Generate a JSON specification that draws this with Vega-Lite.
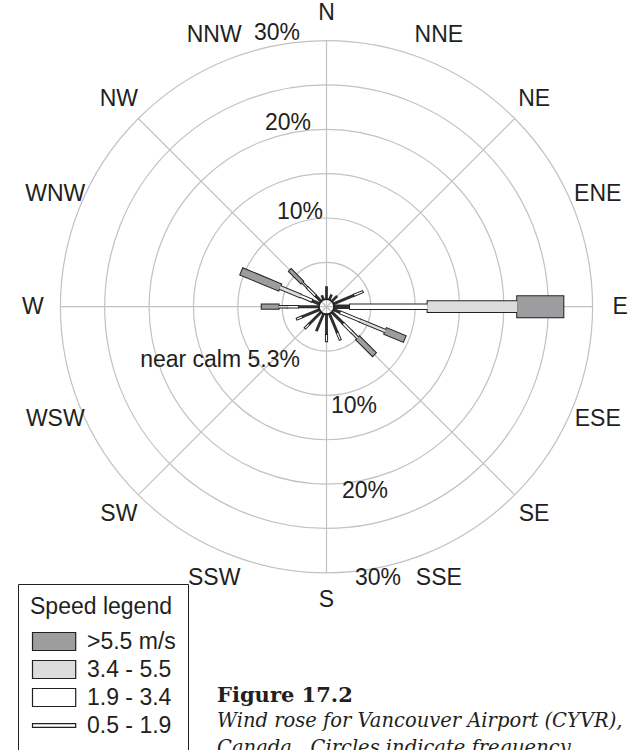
{
  "$schema": "https://vega.github.io/schema/vega-lite/v6.json",
  "width": 631,
  "height": 750,
  "autosize": "none",
  "padding": 0,
  "background": "white",
  "config": {"view": {"stroke": null}, "font": "Liberation Sans"},
  "datasets": {
    "bars": [
      {"dir": 0, "cls": "0.5-1.9", "r0": 0.85, "r1": 2.3},
      {"dir": 22.5, "cls": "0.5-1.9", "r0": 0.85, "r1": 1.5},
      {"dir": 45, "cls": "0.5-1.9", "r0": 0.85, "r1": 1.7},
      {"dir": 67.5, "cls": "0.5-1.9", "r0": 0.85, "r1": 3.4},
      {"dir": 67.5, "cls": "1.9-3.4", "r0": 3.4, "r1": 4.4},
      {"dir": 90, "cls": "0.5-1.9", "r0": 0.85, "r1": 2.65},
      {"dir": 90, "cls": "1.9-3.4", "r0": 2.65, "r1": 11.4},
      {"dir": 90, "cls": "3.4-5.5", "r0": 11.4, "r1": 21.5},
      {"dir": 90, "cls": ">5.5", "r0": 21.5, "r1": 26.7},
      {"dir": 112.5, "cls": "0.5-1.9", "r0": 0.85, "r1": 1.7},
      {"dir": 112.5, "cls": "1.9-3.4", "r0": 1.7, "r1": 4.1},
      {"dir": 112.5, "cls": "3.4-5.5", "r0": 4.1, "r1": 7.2},
      {"dir": 112.5, "cls": ">5.5", "r0": 7.2, "r1": 9.5},
      {"dir": 135, "cls": "0.5-1.9", "r0": 0.85, "r1": 2.7},
      {"dir": 135, "cls": "1.9-3.4", "r0": 2.7, "r1": 4.0},
      {"dir": 135, "cls": "3.4-5.5", "r0": 4.0, "r1": 5.0},
      {"dir": 135, "cls": ">5.5", "r0": 5.0, "r1": 7.6},
      {"dir": 157.5, "cls": "0.5-1.9", "r0": 0.85, "r1": 3.2},
      {"dir": 157.5, "cls": "1.9-3.4", "r0": 3.2, "r1": 4.0},
      {"dir": 180, "cls": "0.5-1.9", "r0": 0.85, "r1": 3.2},
      {"dir": 180, "cls": "1.9-3.4", "r0": 3.2, "r1": 3.9},
      {"dir": 202.5, "cls": "0.5-1.9", "r0": 0.85, "r1": 3.0},
      {"dir": 225, "cls": "0.5-1.9", "r0": 0.85, "r1": 2.8},
      {"dir": 225, "cls": "1.9-3.4", "r0": 2.8, "r1": 3.4},
      {"dir": 247.5, "cls": "0.5-1.9", "r0": 0.85, "r1": 3.0},
      {"dir": 247.5, "cls": "1.9-3.4", "r0": 3.0, "r1": 3.6},
      {"dir": 270, "cls": "0.5-1.9", "r0": 0.85, "r1": 3.2},
      {"dir": 270, "cls": "1.9-3.4", "r0": 3.2, "r1": 4.4},
      {"dir": 270, "cls": "3.4-5.5", "r0": 4.4, "r1": 5.4},
      {"dir": 270, "cls": ">5.5", "r0": 5.4, "r1": 7.3},
      {"dir": 292.5, "cls": "0.5-1.9", "r0": 0.85, "r1": 1.8},
      {"dir": 292.5, "cls": "1.9-3.4", "r0": 1.8, "r1": 3.2},
      {"dir": 292.5, "cls": "3.4-5.5", "r0": 3.2, "r1": 5.7},
      {"dir": 292.5, "cls": ">5.5", "r0": 5.7, "r1": 10.35},
      {"dir": 315, "cls": "0.5-1.9", "r0": 0.85, "r1": 1.8},
      {"dir": 315, "cls": "1.9-3.4", "r0": 1.8, "r1": 3.0},
      {"dir": 315, "cls": "3.4-5.5", "r0": 3.0, "r1": 3.9},
      {"dir": 315, "cls": ">5.5", "r0": 3.9, "r1": 5.8},
      {"dir": 337.5, "cls": "0.5-1.9", "r0": 0.85, "r1": 1.4}
    ],
    "grid": [{"r": 5}, {"r": 10}, {"r": 15}, {"r": 20}, {"r": 25}, {"r": 30}],
    "spokes": [{"dir": 0}, {"dir": 45}, {"dir": 90}, {"dir": 135}, {"dir": 180}, {"dir": 225}, {"dir": 270}, {"dir": 315}],
    "dirs": [
      {"label": "N", "dir": 0}, {"label": "NNE", "dir": 22.5}, {"label": "NE", "dir": 45}, {"label": "ENE", "dir": 67.5},
      {"label": "E", "dir": 90}, {"label": "ESE", "dir": 112.5}, {"label": "SE", "dir": 135}, {"label": "SSE", "dir": 157.5},
      {"label": "S", "dir": 180}, {"label": "SSW", "dir": 202.5}, {"label": "SW", "dir": 225}, {"label": "WSW", "dir": 247.5},
      {"label": "W", "dir": 270}, {"label": "WNW", "dir": 292.5}, {"label": "NW", "dir": 315}, {"label": "NNW", "dir": 337.5}
    ],
    "pct": [
      {"t": "10%", "x": -2.99, "y": 10.68},
      {"t": "20%", "x": -4.34, "y": 20.7},
      {"t": "30%", "x": -5.58, "y": 30.82},
      {"t": "10%", "x": 3.1, "y": -11.2},
      {"t": "20%", "x": 4.34, "y": -20.8},
      {"t": "30%", "x": 5.81, "y": -30.6},
      {"t": "near calm 5.3%", "x": -12.0, "y": -6.0}
    ],
    "captionTitle": [{"t": "Figure 17.2", "x": -12.34, "y": -44.57}],
    "captionLines": [
      {"t": "Wind rose for Vancouver Airport (CYVR),", "x": -12.34, "y": -47.4},
      {"t": "Canada.\u00a0 Circles indicate frequency.", "x": -12.34, "y": -50.4}
    ],
    "speeds": [{"speed": ">5.5 m/s"}, {"speed": "3.4 - 5.5"}, {"speed": "1.9 - 3.4"}, {"speed": "0.5 - 1.9"}],
    "calm": [{"calm": 5.3}]
  },
  "layer": [
    {
      "data": {"name": "grid"},
      "mark": {"type": "arc", "filled": false, "stroke": "#c2c2c2", "strokeWidth": 1.2},
      "encoding": {
        "x": {"datum": 0, "type": "quantitative", "scale": {"type": "linear", "domain": [-36.81, 34.33], "nice": false, "zero": false}, "axis": null},
        "y": {"datum": 0, "type": "quantitative", "scale": {"type": "linear", "domain": [-49.98, 34.58], "nice": false, "zero": false}, "axis": null},
        "theta": {"datum": 0, "type": "quantitative", "scale": {"type": "linear", "domain": [0, 360], "range": [0, 6.283185307179586], "nice": false, "zero": false}},
        "theta2": {"datum": 360},
        "radius": {"field": "r", "type": "quantitative", "stack": null, "scale": {"type": "linear", "domain": [0, 30], "range": [0, 266.1], "nice": false, "zero": true}}
      }
    },
    {
      "data": {"name": "spokes"},
      "mark": {"type": "arc", "filled": false, "stroke": "#c2c2c2", "strokeWidth": 1.2, "strokeJoin": "bevel"},
      "encoding": {
        "x": {"datum": 0, "type": "quantitative", "scale": {"type": "linear", "domain": [-36.81, 34.33], "nice": false, "zero": false}, "axis": null},
        "y": {"datum": 0, "type": "quantitative", "scale": {"type": "linear", "domain": [-49.98, 34.58], "nice": false, "zero": false}, "axis": null},
        "theta": {"field": "dir", "type": "quantitative", "stack": null, "scale": {"type": "linear", "domain": [0, 360], "range": [0, 6.283185307179586], "nice": false, "zero": false}},
        "theta2": {"field": "dir"},
        "radius": {"datum": 30, "type": "quantitative", "stack": null, "scale": {"type": "linear", "domain": [0, 30], "range": [0, 266.1], "nice": false, "zero": true}},
        "radius2": {"datum": 0}
      }
    },
    {
      "data": {"name": "pct"},
      "mark": {"type": "text", "font": "Liberation Sans", "fontSize": 23, "color": "#231f20", "align": "center", "baseline": "middle"},
      "encoding": {
        "x": {"field": "x", "type": "quantitative", "scale": {"type": "linear", "domain": [-36.81, 34.33], "nice": false, "zero": false}, "axis": null},
        "y": {"field": "y", "type": "quantitative", "scale": {"type": "linear", "domain": [-49.98, 34.58], "nice": false, "zero": false}, "axis": null},
        "text": {"field": "t"}
      }
    },
    {
      "data": {"name": "dirs"},
      "mark": {"type": "text", "font": "Liberation Sans", "fontSize": 23, "color": "#231f20", "align": "center", "baseline": "middle"},
      "encoding": {
        "x": {"datum": 0, "type": "quantitative", "scale": {"type": "linear", "domain": [-36.81, 34.33], "nice": false, "zero": false}, "axis": null},
        "y": {"datum": 0, "type": "quantitative", "scale": {"type": "linear", "domain": [-49.98, 34.58], "nice": false, "zero": false}, "axis": null},
        "theta": {"field": "dir", "type": "quantitative", "stack": null, "scale": {"type": "linear", "domain": [0, 360], "range": [0, 6.283185307179586], "nice": false, "zero": false}},
        "radius": {"datum": 33.1, "type": "quantitative", "stack": null, "scale": {"type": "linear", "domain": [0, 30], "range": [0, 266.1], "nice": false, "zero": true}},
        "text": {"field": "label"}
      }
    },
    {
      "data": {"name": "captionTitle"},
      "mark": {"type": "text", "font": "DejaVu Serif", "fontWeight": "bold", "fontSize": 21, "color": "#231f20", "align": "left", "baseline": "alphabetic"},
      "encoding": {
        "x": {"field": "x", "type": "quantitative", "scale": {"type": "linear", "domain": [-36.81, 34.33], "nice": false, "zero": false}, "axis": null},
        "y": {"field": "y", "type": "quantitative", "scale": {"type": "linear", "domain": [-49.98, 34.58], "nice": false, "zero": false}, "axis": null},
        "text": {"field": "t"}
      }
    },
    {
      "data": {"name": "captionLines"},
      "mark": {"type": "text", "font": "DejaVu Serif", "fontStyle": "italic", "fontSize": 19.5, "color": "#231f20", "align": "left", "baseline": "alphabetic"},
      "encoding": {
        "x": {"field": "x", "type": "quantitative", "scale": {"type": "linear", "domain": [-36.81, 34.33], "nice": false, "zero": false}, "axis": null},
        "y": {"field": "y", "type": "quantitative", "scale": {"type": "linear", "domain": [-49.98, 34.58], "nice": false, "zero": false}, "axis": null},
        "text": {"field": "t"}
      }
    },
    {
      "data": {"name": "bars"},
      "transform": [{"joinaggregate": [{"op": "max", "field": "r1", "as": "total"}], "groupby": ["dir"]}],
      "encoding": {
        "x": {"datum": 0, "type": "quantitative", "scale": {"type": "linear", "domain": [-36.81, 34.33], "nice": false, "zero": false}, "axis": null},
        "y": {"datum": 0, "type": "quantitative", "scale": {"type": "linear", "domain": [-49.98, 34.58], "nice": false, "zero": false}, "axis": null},
        "theta": {"field": "dir", "type": "quantitative", "stack": null, "scale": {"type": "linear", "domain": [0, 360], "range": [0, 6.283185307179586], "nice": false, "zero": false}},
        "theta2": {"field": "dir"},
        "radius": {"field": "r1", "type": "quantitative", "stack": null, "scale": {"type": "linear", "domain": [0, 30], "range": [0, 266.1], "nice": false, "zero": true}},
        "radius2": {"field": "r0"}
      },
      "layer": [
        {
          "transform": [{"filter": "datum.cls == '0.5-1.9'"}],
          "mark": {"type": "arc", "filled": false, "stroke": "#2e2e2e", "strokeCap": "butt", "strokeJoin": "bevel"},
          "encoding": {"strokeWidth": {"field": "total", "type": "quantitative", "scale": {"domain": [0, 27], "range": [2.6, 4.6], "zero": false, "nice": false}, "legend": null}}
        },
        {
          "transform": [{"filter": "datum.cls == '1.9-3.4'"}],
          "mark": {"type": "arc", "filled": false, "stroke": "#222222", "strokeCap": "butt", "strokeJoin": "bevel", "radiusOffset": 1, "radius2Offset": -1},
          "encoding": {"strokeWidth": {"field": "total", "type": "quantitative", "scale": {"domain": [0, 27], "range": [2.5, 6.7], "zero": false, "nice": false}, "legend": null}}
        },
        {
          "transform": [{"filter": "datum.cls == '3.4-5.5'"}],
          "mark": {"type": "arc", "filled": false, "stroke": "#222222", "strokeCap": "butt", "strokeJoin": "bevel", "radiusOffset": 1, "radius2Offset": -1},
          "encoding": {"strokeWidth": {"field": "total", "type": "quantitative", "scale": {"domain": [0, 27], "range": [0, 12.85], "zero": false, "nice": false}, "legend": null}}
        },
        {
          "transform": [{"filter": "datum.cls == '>5.5'"}],
          "mark": {"type": "arc", "filled": false, "stroke": "#222222", "strokeCap": "butt", "strokeJoin": "bevel", "radiusOffset": 1, "radius2Offset": -1},
          "encoding": {"strokeWidth": {"field": "total", "type": "quantitative", "scale": {"domain": [0, 27], "range": [0, 23.2], "zero": false, "nice": false}, "legend": null}}
        },
        {
          "transform": [{"filter": "datum.cls == '1.9-3.4'"}],
          "mark": {"type": "arc", "filled": false, "stroke": "#ffffff", "strokeCap": "butt", "strokeJoin": "bevel"},
          "encoding": {"strokeWidth": {"field": "total", "type": "quantitative", "scale": {"domain": [0, 27], "range": [0.5, 4.7], "zero": false, "nice": false}, "legend": null}}
        },
        {
          "transform": [{"filter": "datum.cls == '3.4-5.5'"}],
          "mark": {"type": "arc", "filled": false, "stroke": "#dcdcdd", "strokeCap": "butt", "strokeJoin": "bevel"},
          "encoding": {"strokeWidth": {"field": "total", "type": "quantitative", "scale": {"domain": [4.2, 27], "range": [0, 10.85], "zero": false, "nice": false}, "legend": null}}
        },
        {
          "transform": [{"filter": "datum.cls == '>5.5'"}],
          "mark": {"type": "arc", "filled": false, "stroke": "#9d9d9f", "strokeCap": "butt", "strokeJoin": "bevel"},
          "encoding": {"strokeWidth": {"field": "total", "type": "quantitative", "scale": {"domain": [2.33, 27], "range": [0, 21.2], "zero": false, "nice": false}, "legend": null}}
        }
      ],
      "resolve": {"scale": {"strokeWidth": "independent"}}
    },
    {
      "data": {"name": "calm"},
      "mark": {"type": "arc", "filled": false, "stroke": "#231f20", "strokeWidth": 1.8},
      "encoding": {
        "x": {"datum": 0, "type": "quantitative", "scale": {"type": "linear", "domain": [-36.81, 34.33], "nice": false, "zero": false}, "axis": null},
        "y": {"datum": 0, "type": "quantitative", "scale": {"type": "linear", "domain": [-49.98, 34.58], "nice": false, "zero": false}, "axis": null},
        "theta": {"datum": 0, "type": "quantitative", "scale": {"type": "linear", "domain": [0, 360], "range": [0, 6.283185307179586], "nice": false, "zero": false}},
        "theta2": {"datum": 360},
        "radius": {"datum": 0.85, "type": "quantitative", "stack": null, "scale": {"type": "linear", "domain": [0, 30], "range": [0, 266.1], "nice": false, "zero": true}}
      }
    },
    {
      "data": {"name": "speeds"},
      "transform": [{"filter": "false"}],
      "mark": {"type": "point", "filled": true, "opacity": 1, "stroke": "#231f20", "strokeWidth": 1.2},
      "encoding": {
        "x": {"datum": 0, "type": "quantitative", "scale": {"type": "linear", "domain": [-36.81, 34.33], "nice": false, "zero": false}, "axis": null},
        "y": {"datum": 0, "type": "quantitative", "scale": {"type": "linear", "domain": [-49.98, 34.58], "nice": false, "zero": false}, "axis": null},
        "fill": {
          "field": "speed", "type": "nominal",
          "scale": {"domain": [">5.5 m/s", "3.4 - 5.5", "1.9 - 3.4", "0.5 - 1.9"], "range": ["#9d9d9f", "#dcdcdd", "#ffffff", "#ffffff"]},
          "legend": {
            "title": "Speed legend", "orient": "none", "legendX": 18, "legendY": 584,
            "titleFont": "Liberation Sans", "titleFontSize": 23, "titleFontWeight": "normal", "titleColor": "#231f20", "titlePadding": 11,
            "labelFont": "Liberation Sans", "labelFontSize": 23, "labelColor": "#231f20", "labelOffset": 34, "labelBaseline": "middle",
            "symbolSize": 324, "symbolStrokeColor": "#231f20", "symbolStrokeWidth": 1.2, "symbolOpacity": 1,
            "rowPadding": 4, "strokeColor": "#231f20", "fillColor": "#ffffff", "padding": 12, "cornerRadius": 0,
            "encode": {"symbols": {"update": {"stroke": {"value": "#231f20"}, "strokeWidth": {"value": 1.2}, "opacity": {"value": 1}}}}
          }
        },
        "shape": {
          "field": "speed", "type": "nominal",
          "scale": {"domain": [">5.5 m/s", "3.4 - 5.5", "1.9 - 3.4", "0.5 - 1.9"], "range": ["M-1,-1H3.8V1H-1Z", "M-1,-1H3.8V1H-1Z", "M-1,-1H3.8V1H-1Z", "M-1,-0.2H3.8V0.2H-1Z"]},
          "legend": {
            "title": "Speed legend", "orient": "none", "legendX": 18, "legendY": 584,
            "titleFont": "Liberation Sans", "titleFontSize": 23, "titleFontWeight": "normal", "titleColor": "#231f20", "titlePadding": 11,
            "labelFont": "Liberation Sans", "labelFontSize": 23, "labelColor": "#231f20", "labelOffset": 34, "labelBaseline": "middle",
            "symbolSize": 324, "symbolStrokeColor": "#231f20", "symbolStrokeWidth": 1.2, "symbolOpacity": 1,
            "rowPadding": 4, "strokeColor": "#231f20", "fillColor": "#ffffff", "padding": 12, "cornerRadius": 0,
            "encode": {"symbols": {"update": {"stroke": {"value": "#231f20"}, "strokeWidth": {"value": 1.2}, "opacity": {"value": 1}}}}
          }
        }
      }
    }
  ],
  "resolve": {"scale": {"strokeWidth": "independent"}}
}
